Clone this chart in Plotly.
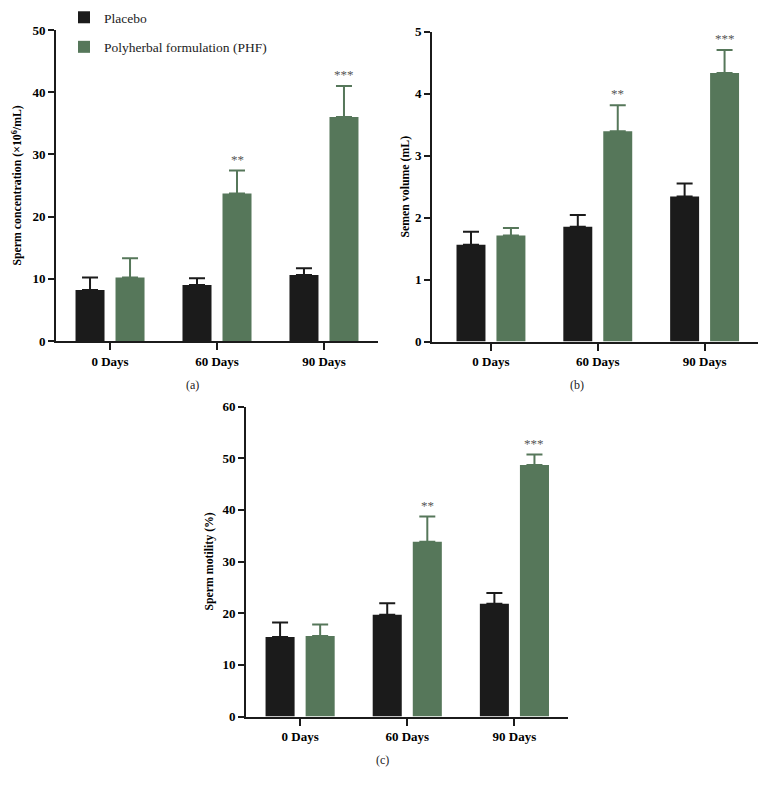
import plotly.graph_objects as go

# ---------------- data ----------------
days = ["0 Days", "60 Days", "90 Days"]
groups = ["Placebo", "Polyherbal formulation (PHF)"]

conc_placebo = [8.2, 9.0, 10.6]
conc_placebo_err = [2.0, 1.1, 1.1]
conc_phf = [10.2, 23.7, 36.0]
conc_phf_err = [3.1, 3.7, 5.0]

vol_placebo = [1.56, 1.85, 2.34]
vol_placebo_err = [0.21, 0.19, 0.21]
vol_phf = [1.71, 3.39, 4.33]
vol_phf_err = [0.12, 0.42, 0.37]

mot_placebo = [15.4, 19.7, 21.8]
mot_placebo_err = [2.8, 2.2, 2.1]
mot_phf = [15.6, 33.8, 48.7]
mot_phf_err = [2.2, 4.9, 2.0]

significance = ["", "**", "***"]

y_titles = ["Sperm concentration (×10<sup>6</sup>/mL)", "Semen volume (mL)", "Sperm motility (%)"]
panel_labels = ["(a)", "(b)", "(c)"]
y_max = [50, 5, 60]
y_step = [10, 1, 10]

# ---------------- style ----------------
W, H = 770, 786
BLACK = "#1b1b1b"
GREEN = "#56775a"
FONT = "Liberation Serif, DejaVu Serif, serif"

def px_x(p):
    return p / W

def px_y(p):
    return 1 - p / H

# panel geometry in pixels: (left, right, top, bottom)
geom = [(56, 378, 30, 341), (432, 758, 31.5, 341.5), (246, 568, 406.5, 716.5)]
xranges = [[-0.505, 2.505], [-0.552, 2.5], [-0.505, 2.5]]
label_pos = [(193, 385), (577, 385), (382, 760)]
ytitle_x = [17, 405, 208]

panels = [
    (conc_placebo, conc_placebo_err, conc_phf, conc_phf_err),
    (vol_placebo, vol_placebo_err, vol_phf, vol_phf_err),
    (mot_placebo, mot_placebo_err, mot_phf, mot_phf_err),
]

fig = go.Figure()
annotations = []
layout_axes = {}

for i, (pl, ple, ph, phe) in enumerate(panels):
    sfx = "" if i == 0 else str(i + 1)
    xa, ya = "x" + sfx, "y" + sfx
    for name, vals, errs, col in [(groups[0], pl, ple, BLACK), (groups[1], ph, phe, GREEN)]:
        fig.add_trace(go.Bar(
            x=days, y=vals, name=name, xaxis=xa, yaxis=ya,
            marker=dict(color=col, line=dict(width=0)),
            error_y=dict(type="data", array=errs, arrayminus=[0] * len(errs), symmetric=False,
                         color=col, thickness=2, width=8),
            showlegend=(i == 0), legendgroup=name,
        ))
    for j, s in enumerate(significance):
        if s:
            annotations.append(dict(
                x=days[j], y=ph[j] + phe[j], xref=xa, yref=ya, text=s, showarrow=False,
                xshift=20, yshift=2, yanchor="bottom",
                font=dict(family=FONT, size=13, color="#555555"),
            ))
    l, r, t, b = geom[i]
    layout_axes["xaxis" + sfx] = dict(
        domain=[px_x(l), px_x(r)], anchor=ya, type="category", range=xranges[i],
        showline=True, linecolor=BLACK, linewidth=2, ticks="outside", ticklen=7, tickwidth=2,
        tickcolor=BLACK, showgrid=False, zeroline=False, automargin=False,
        tickfont=dict(family=FONT, size=13, color="black", weight="bold"),
    )
    layout_axes["yaxis" + sfx] = dict(
        domain=[px_y(b), px_y(t)], anchor=xa, range=[0, y_max[i]], dtick=y_step[i],
        showline=True, linecolor=BLACK, linewidth=2, ticks="outside", ticklen=6, tickwidth=2,
        tickcolor=BLACK, showgrid=False, zeroline=False, automargin=False,
        tickfont=dict(family=FONT, size=13, color="black", weight="bold"),
    )
    annotations.append(dict(
        x=px_x(ytitle_x[i]), y=px_y((t + b) / 2), xref="paper", yref="paper",
        text="<b>" + y_titles[i] + "</b>", textangle=-90, showarrow=False,
        xanchor="center", yanchor="middle",
        font=dict(family=FONT, size=11.8, color="black"),
    ))
    lx, ly = label_pos[i]
    annotations.append(dict(
        x=px_x(lx), y=px_y(ly), xref="paper", yref="paper", text=panel_labels[i],
        showarrow=False, xanchor="center", yanchor="middle",
        font=dict(family=FONT, size=12, color="#222222"),
    ))

fig.update_layout(
    template="none",
    width=W, height=H,
    margin=dict(l=0, r=0, t=0, b=0, autoexpand=False),
    paper_bgcolor="white", plot_bgcolor="white",
    barmode="group", bargap=0.252, bargroupgap=0.275,
    showlegend=True,
    legend=dict(
        x=px_x(64), y=px_y(2), xanchor="left", yanchor="top",
        font=dict(family=FONT, size=13.5, color="#222222"),
        tracegroupgap=9, traceorder="grouped", bgcolor="rgba(0,0,0,0)",
        itemsizing="constant",
    ),
    annotations=annotations,
    **layout_axes,
)

fig.write_html(
    "out.html",
    config={"displayModeBar": False},
    post_script="document.body.style.margin='0';document.body.style.overflow='hidden';",
)
